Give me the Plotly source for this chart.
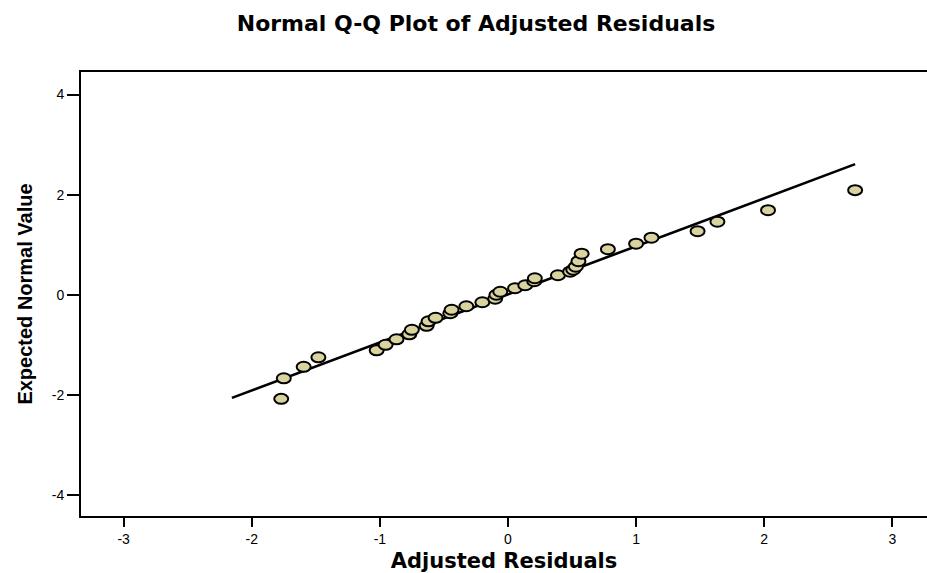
import plotly.graph_objects as go

# Adjusted residuals (x) against expected normal values (y)
residuals = [-1.77, -1.75, -1.595, -1.48, -1.025, -0.955, -0.87, -0.77, -0.75,
             -0.635, -0.62, -0.565, -0.45, -0.44, -0.325, -0.2, -0.1, -0.09,
             -0.06, 0.055, 0.135, 0.205, 0.21, 0.39, 0.485, 0.51, 0.53, 0.55,
             0.575, 0.78, 1.0, 1.12, 1.48, 1.635, 2.03, 2.71]
expected = [-2.08, -1.67, -1.44, -1.25, -1.11, -1.00, -0.89, -0.79, -0.70,
            -0.62, -0.53, -0.46, -0.37, -0.30, -0.23, -0.15, -0.08, 0.00,
            0.06, 0.13, 0.19, 0.27, 0.33, 0.39, 0.46, 0.50, 0.56, 0.67,
            0.82, 0.91, 1.02, 1.14, 1.27, 1.46, 1.69, 2.09]

# Reference line endpoints
line_x = [-2.155, 2.71]
line_y = [-2.06, 2.61]

x_ticks = [-3, -2, -1, 0, 1, 2, 3]
y_ticks = [-4, -2, 0, 2, 4]
x_tick_text = ["-3", "-2", "-1", "0", "1", "2", "3"]
y_tick_text = ["-4", "-2", "0", "2", "4"]

TICK_FONT = dict(family="Liberation Sans, Arial, sans-serif", size=14, color="black")

fig = go.Figure()

fig.add_trace(go.Scatter(x=line_x, y=line_y, mode="lines",
                         line=dict(color="black", width=2.6),
                         hoverinfo="skip", showlegend=False))

# invisible trace to carry hover info for the points
fig.add_trace(go.Scatter(x=residuals, y=expected, mode="markers",
                         marker=dict(size=12, opacity=0),
                         showlegend=False))

# elliptical point markers, anchored at data coordinates with pixel size
shapes = []
for xv, yv in zip(residuals, expected):
    shapes.append(dict(type="circle", xref="x", yref="y",
                       xsizemode="pixel", ysizemode="pixel",
                       xanchor=xv, yanchor=yv,
                       x0=-7, x1=7, y0=-5, y1=5,
                       fillcolor="#D9D3A0",
                       line=dict(color="black", width=2),
                       layer="above"))

fig.update_layout(
    width=927, height=573,
    margin=dict(l=81, r=0, t=72, b=57),
    paper_bgcolor="white", plot_bgcolor="white",
    shapes=shapes,
    title=dict(text="<b>Normal Q-Q Plot of Adjusted Residuals</b>",
               x=476 / 927, xanchor="center", xref="container",
               y=1 - 23 / 573, yanchor="middle",
               font=dict(family="DejaVu Sans, sans-serif",
                         size=22, color="black")),
    xaxis=dict(range=[-3.333, 3.271], tickvals=x_ticks, ticktext=x_tick_text,
               ticks="outside", ticklen=9, tickwidth=1.5, tickcolor="black",
               showline=True, linecolor="black", linewidth=2, mirror=True,
               showgrid=False, zeroline=False,
               tickfont=TICK_FONT,
               title=dict(text="<b>Adjusted Residuals</b>", standoff=8,
                          font=dict(family="DejaVu Sans, sans-serif",
                                    size=21, color="black"))),
    yaxis=dict(range=[-4.42, 4.45], tickvals=y_ticks, ticktext=y_tick_text,
               ticks="outside", ticklen=12, tickwidth=1.5, tickcolor="black",
               showline=True, linecolor="black", linewidth=2, mirror=False,
               showgrid=False, zeroline=False,
               tickfont=TICK_FONT,
               title=dict(text="<b>Expected Normal Value</b>", standoff=14,
                          font=dict(family="Liberation Sans, Arial, sans-serif",
                                    size=20, color="black"))),
)

fig.write_html("out.html")
